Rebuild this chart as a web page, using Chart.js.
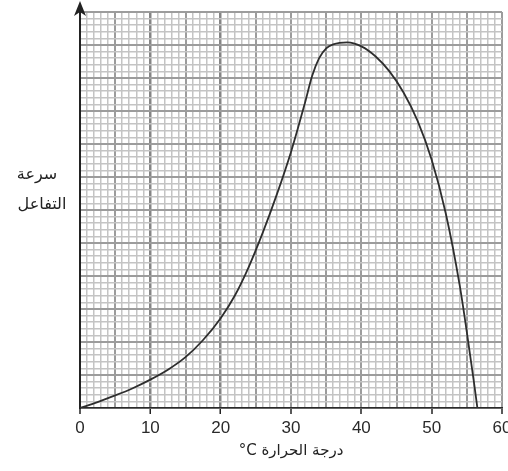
<!DOCTYPE html>
<html>
<head>
<meta charset="utf-8">
<script src="https://cdn.jsdelivr.net/npm/chart.js@4.4.1/dist/chart.umd.min.js"></script>
<style>
  html, body { margin: 0; padding: 0; background: #ffffff; }
  #wrap { width: 508px; height: 471px; }
</style>
</head>
<body>
<div id="wrap"><canvas id="c" width="508" height="471"></canvas></div>
<script>
// ---- data ----
const temperatures = [0, 2.5, 5, 7.5, 10, 12.5, 15, 17.5, 20, 22, 24, 26, 28, 30, 32, 33, 34, 35, 36, 38, 40, 42, 44, 46, 48, 50, 52, 54, 55, 56, 56.5];
const rates        = [0, 0.9, 1.9, 3.0, 4.3, 5.8, 7.7, 10.3, 13.6, 17.0, 21.4, 26.6, 32.4, 38.8, 46.3, 50.3, 53.0, 54.5, 55.1, 55.4, 54.8, 53.3, 51.0, 47.8, 43.5, 37.6, 29.5, 18.5, 11.5, 4.0, 0];
const xTickLabels  = [0, 10, 20, 30, 40, 50, 60];
const darkGridX    = [10, 20];
const xTitle       = 'درجة الحرارة \u200E°C';
const yTitleLines  = ['سرعة', 'التفاعل'];

const points = temperatures.map((t, i) => ({ x: t, y: rates[i] }));

function gridColor(ctx, axis) {
  const v = ctx.tick ? ctx.tick.value : 0;
  if (axis === 'x' && darkGridX.includes(v)) return '#858585';
  if (v % 5 === 0) return '#9c9c9c';
  return '#c4c4c4';
}
function gridWidth(ctx, axis) {
  const v = ctx.tick ? ctx.tick.value : 0;
  if (axis === 'x' && darkGridX.includes(v)) return 2.5;
  if (v % 5 === 0) return 2;
  return 1.5;
}

const decorPlugin = {
  id: 'decor',
  afterDraw(chart) {
    const ctx = chart.ctx;
    const a = chart.chartArea;
    ctx.save();
    // arrow head on the y axis
    ctx.fillStyle = '#222';
    ctx.beginPath();
    ctx.moveTo(a.left, 1);
    ctx.lineTo(a.left + 6, 16);
    ctx.lineTo(a.left, 12);
    ctx.lineTo(a.left - 6, 16);
    ctx.closePath();
    ctx.fill();
    // titles
    ctx.direction = 'rtl';
    ctx.textAlign = 'center';
    ctx.textBaseline = 'middle';
    ctx.fillStyle = '#222';
    ctx.font = '15px "DejaVu Sans"';
    ctx.fillText(xTitle, (a.left + a.right) / 2, 451);
    ctx.font = '16px "DejaVu Sans"';
    ctx.fillText(yTitleLines[0], 37, 175);
    ctx.fillText(yTitleLines[1], 42, 205);
    ctx.restore();
  }
};

new Chart(document.getElementById('c'), {
  type: 'line',
  data: {
    datasets: [{
      data: points,
      borderColor: '#2e2e2e',
      borderWidth: 1.8,
      pointRadius: 0,
      fill: false,
      cubicInterpolationMode: 'monotone'
    }]
  },
  options: {
    responsive: false,
    animation: false,
    devicePixelRatio: 1,
    layout: { padding: { top: 12, right: 6, left: 0, bottom: 0 } },
    plugins: { legend: { display: false }, tooltip: { enabled: false } },
    scales: {
      x: {
        type: 'linear',
        min: 0, max: 60,
        ticks: {
          stepSize: 1,
          autoSkip: false,
          maxRotation: 0,
          padding: 4,
          color: '#2a2a2a',
          font: { family: '"Liberation Sans", Arial, sans-serif', size: 17 },
          callback: (v) => xTickLabels.includes(v) ? String(v) : ''
        },
        grid: {
          color: (c) => gridColor(c, 'x'),
          lineWidth: (c) => gridWidth(c, 'x'),
          tickColor: (c) => xTickLabels.includes(c.tick ? c.tick.value : -1) ? '#222' : 'rgba(0,0,0,0)',
          tickLength: 6,
          tickWidth: 1.5
        },
        border: { color: '#2a2a2a', width: 1.5 },
        afterFit(s) { s.height = 63; s.paddingLeft = 0; s.paddingRight = 0; }
      },
      y: {
        min: 0, max: 60,
        ticks: { stepSize: 1, display: false },
        grid: {
          color: (c) => gridColor(c, 'y'),
          lineWidth: (c) => gridWidth(c, 'y'),
          drawTicks: false
        },
        border: { color: '#222', width: 2 },
        afterFit(s) { s.width = 80; }
      }
    }
  },
  plugins: [decorPlugin]
});
</script>
</body>
</html>
